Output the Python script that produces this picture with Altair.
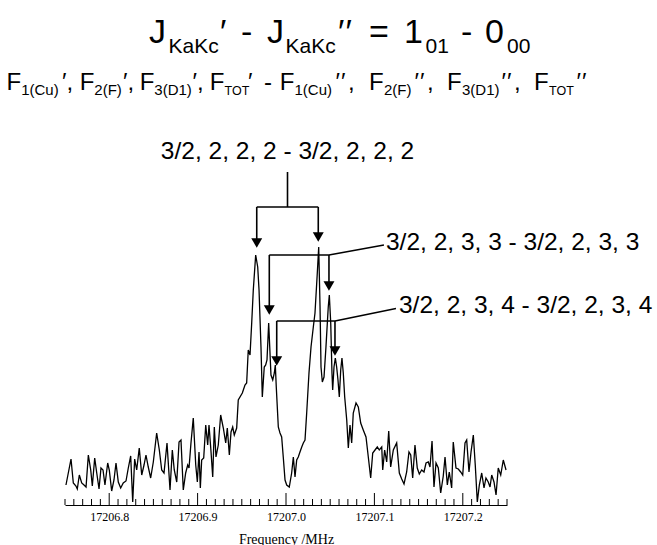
import altair as alt
import pandas as pd

# ---------------- spectrum ----------------
freq = [
    17206.7511, 17206.7568, 17206.7594, 17206.7624, 17206.7639, 17206.7662, 17206.7689, 17206.7715,
    17206.7738, 17206.7764, 17206.7791, 17206.7809, 17206.7836, 17206.7859, 17206.7885, 17206.7907,
    17206.7930, 17206.7952, 17206.7983, 17206.8001, 17206.8028, 17206.8054, 17206.8077, 17206.8103,
    17206.8130, 17206.8159, 17206.8190, 17206.8216, 17206.8243, 17206.8266, 17206.8288, 17206.8311,
    17206.8340, 17206.8368, 17206.8394, 17206.8416, 17206.8442, 17206.8469, 17206.8499, 17206.8537,
    17206.8567, 17206.8594, 17206.8620, 17206.8654,
    17206.8688, 17206.8714, 17206.8736, 17206.8764, 17206.8790, 17206.8812, 17206.8838, 17206.8865,
    17206.8888, 17206.8903, 17206.8925, 17206.8951, 17206.8979, 17206.8997, 17206.9016, 17206.9031,
    17206.9046, 17206.9069, 17206.9092, 17206.9114, 17206.9129, 17206.9152, 17206.9171, 17206.9189,
    17206.9208, 17206.9234, 17206.9261, 17206.9291, 17206.9318, 17206.9336, 17206.9359, 17206.9378,
    17206.9397, 17206.9415, 17206.9442, 17206.9460, 17206.9506, 17206.9536, 17206.9555, 17206.9573,
    17206.9593, 17206.9612, 17206.9630, 17206.9657, 17206.9680, 17206.9695, 17206.9717, 17206.9732,
    17206.9754, 17206.9770, 17206.9785, 17206.9804, 17206.9816, 17206.9830, 17206.9850, 17206.9868,
    17206.9879, 17206.9890, 17206.9913, 17206.9932, 17206.9951, 17206.9969, 17206.9989, 17207.0008,
    17207.0037, 17207.0064, 17207.0083, 17207.0102, 17207.0121, 17207.0139, 17207.0158, 17207.0178,
    17207.0196, 17207.0215, 17207.0234, 17207.0260, 17207.0283, 17207.0309, 17207.0328, 17207.0354,
    17207.0370, 17207.0385, 17207.0396, 17207.0411, 17207.0430, 17207.0452, 17207.0478, 17207.0490,
    17207.0506, 17207.0520, 17207.0528, 17207.0543, 17207.0558, 17207.0573, 17207.0588, 17207.0603,
    17207.0619, 17207.0633, 17207.0648, 17207.0664, 17207.0687, 17207.0705, 17207.0724, 17207.0743,
    17207.0761, 17207.0792, 17207.0818, 17207.0845, 17207.0874, 17207.0905, 17207.0931, 17207.0958,
    17207.0981, 17207.1007, 17207.1033, 17207.1055, 17207.1083, 17207.1094, 17207.1116, 17207.1139,
    17207.1162, 17207.1184, 17207.1214, 17207.1252, 17207.1282, 17207.1309, 17207.1335, 17207.1365,
    17207.1391, 17207.1411, 17207.1433, 17207.1459, 17207.1485, 17207.1508, 17207.1535, 17207.1561,
    17207.1584, 17207.1610, 17207.1629, 17207.1652, 17207.1674, 17207.1697, 17207.1723, 17207.1750,
    17207.1779, 17207.1799, 17207.1825, 17207.1847, 17207.1874, 17207.1892, 17207.1923, 17207.1949,
    17207.1976, 17207.1999, 17207.2025, 17207.2044, 17207.2070, 17207.2093, 17207.2119, 17207.2141,
    17207.2164, 17207.2187, 17207.2214, 17207.2240, 17207.2262, 17207.2288, 17207.2308, 17207.2327,
    17207.2353, 17207.2376, 17207.2401, 17207.2429, 17207.2458, 17207.2489,
]
inten = [
    20, 46, 22, 19, 16, 30, 22, 20,
    18, 50, 35, 19, 47, 32, 16, 37,
    35, 20, 42, 35, 14, 25, 42, 23,
    17, 22, 24, 37, 49, 3, 46, 35,
    57, 30, 40, 50, 38, 27, 43, 72,
    55, 35, 32, 62,
    15, 55, 35, 23, 63, 65, 15, 32,
    40, 37, 62, 87, 40, 23, 53, 17,
    45, 47, 80, 60, 80, 53, 28, 78,
    48, 60, 90, 77, 62, 77, 50, 73,
    78, 70, 77, 105, 112, 120, 122, 155,
    150, 182, 215, 250, 238, 215, 158, 108,
    138, 140, 145, 182, 158, 130, 125, 132,
    140, 118, 78, 72, 68, 48, 25, 20,
    18, 32, 48, 28, 45, 48, 53, 58,
    62, 65, 92, 132, 158, 178, 192, 232,
    258, 198, 138, 123, 128, 158, 198, 210,
    182, 132, 115, 138, 147, 138, 125, 108,
    135, 147, 132, 108, 85, 57, 80, 62,
    92, 102, 98, 82, 75, 68, 48, 27,
    52, 55, 58, 55, 58, 35, 55, 43,
    74, 38, 55, 62, 32, 26, 21, 33,
    53, 50, 27, 60, 37, 31, 35, 33,
    42, 43, 38, 64, 18, 42, 37, 12,
    29, 48, 20, 33, 17, 63, 37, 36,
    33, 30, 62, 65, 33, 53, 70, 40,
    3, 20, 32, 17, 27, 23, 18, 30,
    23, 10, 37, 30, 45, 35,
]

# ---------------- axis ----------------
x_domain = [17206.75, 17207.25]
major_ticks = [17206.8, 17206.9, 17207.0, 17207.1, 17207.2]
tick_freqs = [round(17206.75 + 0.01 * i, 2) for i in range(51)]

# ---------------- assignments ----------------
labels = ["3/2, 2, 2, 2 - 3/2, 2, 2, 2",
          "3/2, 2, 3, 3 - 3/2, 2, 3, 3",
          "3/2, 2, 3, 4 - 3/2, 2, 3, 4"]
f_low = [17206.9669, 17206.9811, 17206.9895]
f_high = [17207.0365, 17207.0486, 17207.0554]
bar_level = [298, 250, 184]
tip_low = [257, 190, 139]
tip_high = [263, 214, 149]
stem_top = 333
label1_level = 353
leader_end_f = [17207.1108, 17207.1244]
leader_end_i = [260, 196.5]
label_f = [17207.1131, 17207.1278]
label_i = [262, 199.5]

W, H = 442, 505
LEFT = 65
xs = alt.Scale(domain=x_domain, nice=False, zero=False)
ys = alt.Scale(domain=[0, H], nice=False, zero=False)

x_axis = alt.Axis(values=major_ticks, format=".1f", ticks=False, tickSize=0, grid=False,
                  domain=True, domainColor="black", domainWidth=1,
                  labelFont="Liberation Serif", labelFontSize=12, labelColor="black",
                  labelPadding=6, labelFlush=False, labelOverlap=False,
                  title="Frequency /MHz", titleFont="Liberation Serif",
                  titleFontSize=14, titleFontWeight="normal", titleColor="black",
                  titlePadding=10)


def X(field):
    return alt.X(field, type="quantitative", scale=xs, axis=x_axis)


def Y(field):
    return alt.Y(field, type="quantitative", scale=ys, axis=None)


spec = pd.DataFrame({"freq": freq, "inten": inten})
line = alt.Chart(spec).mark_line(color="black", strokeWidth=1.3).encode(
    x=X("freq"), y=Y("inten"))

ticks_df = pd.DataFrame({"f": tick_freqs,
                         "tl": [12 if abs(t * 10 - round(t * 10)) < 1e-6 else 6 for t in tick_freqs],
                         "z": [0] * len(tick_freqs)})
ticks = alt.Chart(ticks_df).mark_rule(color="black", strokeWidth=1).encode(
    x=X("f"), y=Y("z"), y2="tl:Q")

arrows_df = pd.DataFrame({"f": f_low + f_high, "top": bar_level + bar_level,
                          "tip": tip_low + tip_high})
arrows_df["se"] = arrows_df["tip"] + 6
shafts = alt.Chart(arrows_df).mark_rule(color="black", strokeWidth=1.6).encode(
    x=X("f"), y=Y("top"), y2="se:Q")
heads = alt.Chart(arrows_df).mark_point(shape="triangle-down", size=120,
                                        filled=True, color="black", opacity=1).encode(
    x=X("f"), y=Y("tip"), yOffset=alt.value(-5))

bars_df = pd.DataFrame({"f1": f_low, "f2": f_high, "lvl": bar_level})
bars = alt.Chart(bars_df).mark_rule(color="black", strokeWidth=1.6).encode(
    x=X("f1"), x2="f2:Q", y=Y("lvl"))

f_mid = (f_low[0] + f_high[0]) / 2
stem_df = pd.DataFrame({"f": [f_mid], "a": [bar_level[0]], "b": [stem_top]})
stem = alt.Chart(stem_df).mark_rule(color="black", strokeWidth=1.6).encode(
    x=X("f"), y=Y("a"), y2="b:Q")

lead_df = pd.DataFrame({"f1": f_high[1:], "i1": bar_level[1:], "f2": leader_end_f, "i2": leader_end_i})
leaders = alt.Chart(lead_df).mark_rule(color="black", strokeWidth=1.4).encode(
    x=X("f1"), x2="f2:Q", y=Y("i1"), y2="i2:Q")

lab1_df = pd.DataFrame({"f": [f_mid], "i": [label1_level], "t": [labels[0]]})
lab1 = alt.Chart(lab1_df).mark_text(align="center", baseline="middle", font="Liberation Sans",
                                    fontSize=24.5, color="black").encode(
    x=X("f"), y=Y("i"), text="t:N")
lab23_df = pd.DataFrame({"f": label_f, "i": label_i, "t": labels[1:]})
lab23 = alt.Chart(lab23_df).mark_text(align="left", baseline="middle", font="Liberation Sans",
                                      fontSize=24.5, color="black").encode(
    x=X("f"), y=Y("i"), text="t:N")

# ---------------- header with sub-/superscripts (layout in page pixels) ----------------
P = "\u2032"
M1, S1, B1, SB1 = 34, 21, 42.5, 52.5
M2, S2, T2, B2, SB2 = 24, 15, 12.5, 89.5, 94.5
title_pieces = [
    ("J", 149, B1, M1), ("KaKc", 168.5, SB1, S1), (P, 220, B1, M1),
    ("-", 241, B1, M1), ("J", 267, B1, M1), ("KaKc", 285.5, SB1, S1),
    (P, 338, B1, M1), (P, 345.5, B1, M1), ("=", 369, B1, M1), ("1", 404, B1, M1),
    ("01", 425.5, SB1, S1), ("-", 461, B1, M1), ("0", 485, B1, M1), ("00", 507, SB1, S1),
    ("F", 6.5, B2, M2), ("1(Cu)", 21.2, SB2, S2), (P + ",", 62, B2, M2),
    ("F", 79.8, B2, M2), ("2(F)", 94.3, SB2, S2), (P + ",", 123, B2, M2),
    ("F", 139.8, B2, M2), ("3(D1)", 154.3, SB2, S2), (P + ",", 192.5, B2, M2),
    ("F", 209.8, B2, M2), ("TOT", 224.5, SB2, T2), (P, 248, B2, M2),
    ("-", 264, B2, M2),
    ("F", 279.8, B2, M2), ("1(Cu)", 294.5, SB2, S2), (P, 335.5, B2, M2), (P, 341, B2, M2),
    (",", 348, B2, M2),
    ("F", 369, B2, M2), ("2(F)", 384, SB2, S2), (P, 414.5, B2, M2), (P, 420, B2, M2),
    (",", 427, B2, M2),
    ("F", 447, B2, M2), ("3(D1)", 462, SB2, S2), (P, 501.5, B2, M2), (P, 507, B2, M2),
    (",", 514, B2, M2),
    ("F", 534, B2, M2), ("TOT", 549, SB2, T2), (P, 576.5, B2, M2), (P, 582, B2, M2),
]
px_per_mhz = W / (x_domain[1] - x_domain[0])
head_layers = []
for size in sorted(set(p[3] for p in title_pieces)):
    rows = [p for p in title_pieces if p[3] == size]
    df = pd.DataFrame({
        "t": [r[0] for r in rows],
        "f": [x_domain[0] + (r[1] - LEFT) / px_per_mhz for r in rows],
        "i": [H - r[2] for r in rows],
    })
    head_layers.append(
        alt.Chart(df).mark_text(align="left", baseline="alphabetic", font="Liberation Sans",
                                fontSize=size, color="black").encode(
            x=X("f"), y=Y("i"), text="t:N"))

chart = alt.layer(line, ticks, bars, stem, leaders, shafts, heads, lab1, lab23,
                  *head_layers).properties(
    width=W, height=H,
    autosize=alt.AutoSizeParams(type="none"),
    padding={"left": LEFT, "top": 0, "right": 657 - LEFT - W, "bottom": 545 - H},
    background="white",
).configure_view(stroke=None)

chart.save("out.html", embed_options={"renderer": "svg", "actions": False})
